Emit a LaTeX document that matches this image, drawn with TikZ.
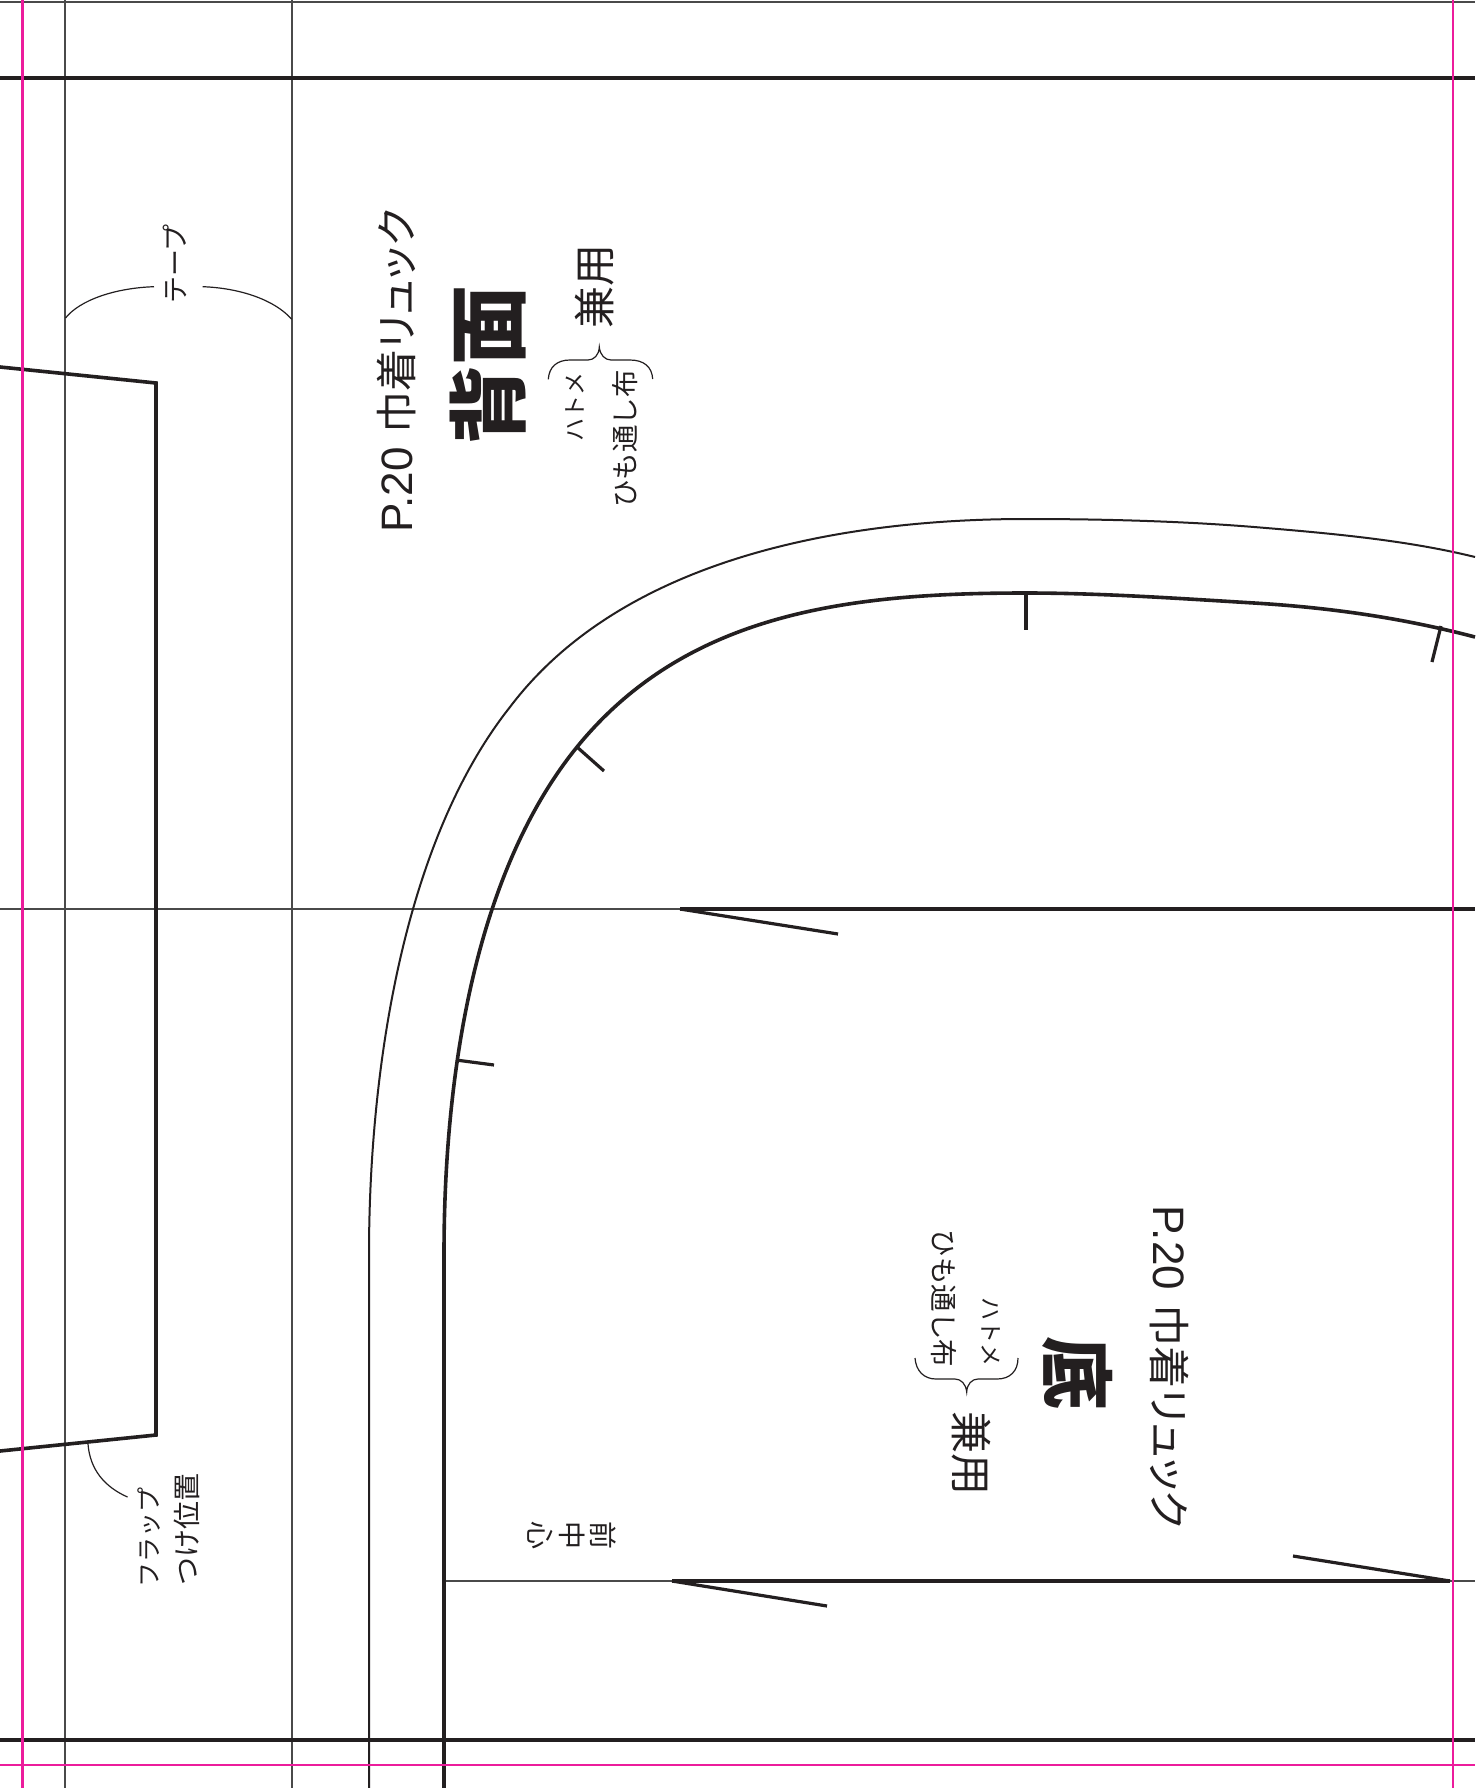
\documentclass[tikz,border=0pt]{standalone}
\usepackage{fontspec}
\setmainfont{Liberation Sans}
\newfontfamily\jp{Noto Sans CJK JP}
\newfontfamily\jpp{Noto Sans CJK JP}[RawFeature=+palt]
\newfontfamily\jpb{Noto Sans CJK JP Black}
\definecolor{ink}{HTML}{231F20}
\definecolor{thinink}{HTML}{4A4A4A}
\definecolor{mag}{HTML}{EC1C9C}
\tikzset{
  fine/.style={draw=thinink,line width=1.3pt},
  curve/.style={draw=ink,line width=2pt},
  seam/.style={draw=ink,line width=3.6pt},
  notch/.style={draw=ink,line width=3.2pt},
  guide/.style={draw=mag,line width=2.4pt},
  lead/.style={draw=ink,line width=1.2pt},
  lab/.style={inner sep=0pt,text=ink},
}
\newcommand{\fs}[1]{\fontsize{#1}{#1}\selectfont}
\begin{document}
\begin{tikzpicture}[x=1pt,y=-1pt]
\useasboundingbox (0,0) rectangle (1475,1788);
\fill[white] (0,0) rectangle (1475,1788);
% fine frame lines
\draw[fine,line width=2.2pt] (0,2) -- (1475,2);
\draw[fine] (65,0) -- (65,1788);
\draw[fine] (292,0) -- (292,1788);
\draw[fine] (0,909) -- (680,909);
\draw[fine] (444,1581) -- (672,1581);
\draw[fine] (1450,1581) -- (1475,1581);
% seam allowance curve
\draw[curve] (369,1788) -- (369,1254) .. controls (369,1080) and (400,846) .. (510,707)
  .. controls (625,555) and (850,519) .. (1026,519)
  .. controls (1100,519) and (1180,521) .. (1254,527)
  .. controls (1340,534) and (1410,541) .. (1475,557);
% main seam curve
\draw[seam] (444,1788) -- (444,1254) .. controls (444,1090) and (470,879) .. (577,747)
  .. controls (687,612) and (850,593) .. (1026,593)
  .. controls (1100,593) and (1180,598.5) .. (1254,603)
  .. controls (1340,608.2) and (1410,620) .. (1475,637);
% horizontal seams
\draw[seam] (0,78) -- (1475,78);
\draw[seam] (0,1740) -- (1475,1740);
\draw[seam] (680,909) -- (1475,909);
\draw[seam] (672,1581) -- (1450,1581);
% darts
\draw[notch] (680,909) -- (838,934);
\draw[notch] (672,1581) -- (827,1606);
\draw[notch] (1450,1581) -- (1293,1556);
% notches
\draw[notch] (1026,593) -- (1026,630);
\draw[notch] (1441,626) -- (1432,662);
\draw[notch] (577,747) -- (604,771);
\draw[notch] (456,1060) -- (494,1065);
% flap
\draw[seam,line join=miter] (0,367) -- (156,383) -- (156,1435) -- (0,1451);
% leaders
\draw[lead] (88,1444) .. controls (90,1470) and (105,1487) .. (127.5,1497);
\draw[lead] (65.5,318) .. controls (80,300) and (115,288) .. (154,286.7);
\draw[lead] (202.7,286.7) .. controls (240,288) and (275,300) .. (291.7,319.3);
% braces
\draw[lead] (548.3,379.3) .. controls (549,367) and (557,360) .. (570,360) -- (588,360)
  .. controls (594,360) and (599,355) .. (599.3,347)
  .. controls (600,355) and (605,360) .. (611,360) -- (630,360)
  .. controls (644,360) and (652,367) .. (652.7,379);
\draw[lead] (915,1358) .. controls (916,1371) and (924,1379) .. (936,1379) -- (955,1379)
  .. controls (961,1379) and (966,1384) .. (966.7,1392)
  .. controls (967,1384) and (972,1379) .. (978,1379) -- (997,1379)
  .. controls (1010,1379) and (1018,1371) .. (1018,1358);
% magenta guides
\draw[guide] (22.5,0) -- (22.5,1788);
\draw[guide] (1453,0) -- (1453,1788);
\draw[guide] (0,1765) -- (1475,1765);
% upper labels
\node[lab,rotate=90] (t1) at (397,370.5) {\fs{44}P.20\hspace{14pt}{\jpp\fs{42}巾着リュック}};
\node[lab,rotate=90] (t2) at (488,365) {\jpb\fs{80}背面};
\node[lab,rotate=90] (t3) at (595,286) {\jp\fs{42}兼用};
\node[lab,rotate=90] (t4) at (575,407) {\jp\fs{23}ハトメ};
\node[lab,rotate=90] (t5) at (625,439) {\jp\fs{27.5}ひも通し布};
\node[lab,rotate=90] (t6) at (175,264) {\jp\fs{27}テープ};
\node[lab,rotate=90] (t7) at (149,1537) {\jp\fs{25}フラップ};
\node[lab,rotate=90] (t8) at (187,1529) {\jp\fs{28}つけ位置};
% lower labels
\node[lab,rotate=-90] (b1) at (1169.5,1367) {\fs{44}P.20\hspace{14pt}{\jpp\fs{42}巾着リュック}};
\node[lab,rotate=-90] (b2) at (1078,1373) {\jpb\fs{74}底};
\node[lab,rotate=-90] (b3) at (971.5,1453) {\jp\fs{42}兼用};
\node[lab,rotate=-90] (b4) at (991,1332) {\jp\fs{23}ハトメ};
\node[lab,rotate=-90] (b5) at (943.5,1298.5) {\jp\fs{27.5}ひも通し布};
\node[lab,rotate=-90,align=center,font=\jp\fontsize{28}{31.5}\selectfont] (b6) at (572,1535) {前\\中\\心};
\end{tikzpicture}
\end{document}
